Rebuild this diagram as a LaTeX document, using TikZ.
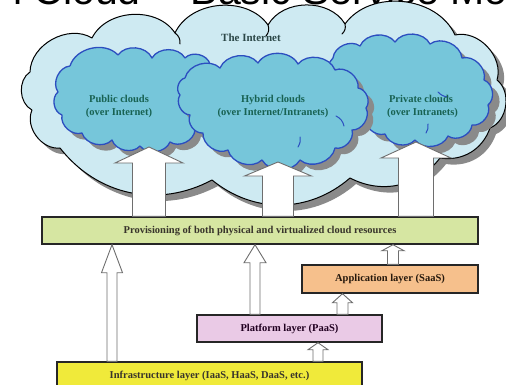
\documentclass[tikz,border=0pt]{standalone}
\usepackage{fontspec}
\setmainfont{Liberation Serif}
\newfontfamily\titlefont{Liberation Sans}
\usetikzlibrary{calc}

\definecolor{inetfill}{RGB}{206,234,242}
\definecolor{cloudfill}{RGB}{118,198,218}
\definecolor{cloudline}{RGB}{44,78,192}
\definecolor{shadowgray}{RGB}{138,138,138}
\definecolor{cloudtext}{RGB}{24,98,82}
\definecolor{inettext}{RGB}{44,72,72}
\definecolor{provfill}{RGB}{214,230,162}
\definecolor{appfill}{RGB}{246,192,140}
\definecolor{platfill}{RGB}{234,202,230}
\definecolor{infrafill}{RGB}{240,234,58}
\definecolor{arrowline}{RGB}{110,110,110}

\tikzset{
  inetcloud/.style={fill=inetfill, draw=black, line width=1pt, line join=round},
  bluecloud/.style={fill=cloudfill, draw=cloudline, line width=1.3pt, line join=round},
  cloudshadow/.style={fill=shadowgray},
  hook/.style={draw=#1, line width=1pt, line cap=round},
  cloudlabel/.style={font=\bfseries\fontsize{10.5}{13}\selectfont, text=cloudtext, align=center},
  layerbox/.style={draw=black!85, line width=1.4pt, minimum height=27pt, inner sep=0pt,
    font=\bfseries\fontsize{10.5}{12}\selectfont},
  blockarr/.style={fill=white, draw=arrowline, line width=0.9pt, line join=miter},
  every to/.style={bend left=60}
}

% hollow upward block arrow: base point, tip point, shaft half width,
% head half width, head length (all widths in pt)
\newcommand\hollowup[5]{%
  \draw[blockarr] let \p1=#1, \p2=#2 in
    (\x1-#3pt,\y1) -- (\x1-#3pt,\y2-#5pt) -- (\x1-#4pt,\y2-#5pt) -- (\x1,\y2)
    -- (\x1+#4pt,\y2-#5pt) -- (\x1+#3pt,\y2-#5pt) -- (\x1+#3pt,\y1) -- cycle;}

\begin{document}
\begin{tikzpicture}[x=1pt,y=-1pt]
\useasboundingbox (0,0) rectangle (506,385);
\clip (0,0) rectangle (506,385);

% heading, only its lower edge shows
\node[anchor=base west, inner sep=0pt, font=\titlefont\fontsize{41}{41}\selectfont]
  (heading) at (13,5) {l Cloud -- Basic Service Models};

% the Internet cloud
\def\inetpath{(32,110) to (30,72) to (92,38) to (175,33) to (268,25) to (345,24)
  to (455,35) to (497,80) to (490,128) to[bend left=40] (440,158) to[bend left=40] (350,178)
  to[bend left=40] (212,180) to[bend left=40] (60,148) to (32,110)}
\fill[cloudshadow, shift={(6,6)}] \inetpath;
\path[inetcloud] \inetpath;
\draw[hook=black] (175,33) to[bend left=30] (180,44);
\draw[hook=black] (268,25) to[bend left=30] (266,36);
\draw[hook=black] (345,24) to[bend left=30] (342,34);
\node[font=\bfseries\fontsize{11}{13}\selectfont, text=inettext] (inet) at (251,38) {The Internet};

% public clouds
\def\pubpath{(70,66) to (118,55) to (152,58) to (185,58) to (210,64) to (215,100)
  to (195,130) to (170,142) to (140,146) to (112,140) to (82,133) to (62,115)
  to (58,92) to (70,66)}
\fill[cloudshadow, shift={(6,6)}] \pubpath;
\path[bluecloud] \pubpath;
\node[cloudlabel] (public) at (119,106) {Public clouds\\(over Internet)};

% private clouds
\def\privpath{(333,58) to (360,46) to (395,42) to (430,44) to (462,58) to (484,80)
  to (488,105) to (472,125) to (448,136) to (415,140) to (385,134) to (365,115)
  to (340,90) to (333,58)}
\fill[cloudshadow, shift={(7,7)}] \privpath;
\path[bluecloud] \privpath;
\draw[hook=cloudline] (448,97) to[bend left=20] (438,92);
\draw[hook=cloudline] (428,124) to[bend left=20] (426,133);
\node[cloudlabel] (private) at (421,106) {Private clouds\\\;(over Intranets)};

% hybrid clouds
\def\hybpath{(185,78) to (220,68) to (258,63) to (298,64) to (335,70) to (358,88)
  to (366,108) to (352,130) to (335,148) to (300,160) to (262,160) to (228,150)
  to (203,133) to (190,115) to (180,95) to (185,78)}
\fill[cloudshadow, shift={(6,6)}] \hybpath;
\path[bluecloud] \hybpath;
\draw[hook=cloudline] (336,116) to[bend left=25] (344,126);
\draw[hook=cloudline] (300,137) to[bend left=20] (298,147);
\node[cloudlabel] (hybrid) at (273,106) {Hybrid clouds\\(over Internet/Intranets)};

% service layers
\node[layerbox, fill=provfill, minimum width=436pt, text=black!80!olive] (prov) at (260,230.5)
  {Provisioning of both physical and virtualized cloud resources};
\node[layerbox, fill=appfill, minimum width=176pt, minimum height=28pt, text=black!80!brown] (app) at (390,279)
  {Application layer (SaaS)};
\node[layerbox, fill=platfill, minimum width=185pt, text=black!75!violet] (plat) at (289.5,328.5)
  {Platform layer (PaaS)};
\node[layerbox, fill=infrafill, minimum width=305pt, minimum height=28pt, text=black!80!olive] (infra) at (209.5,376)
  {Infrastructure layer (IaaS, HaaS, DaaS, etc.)};

% arrow tips inside the clouds
\coordinate (pubtip) at (149,147);
\coordinate (hybtip) at (278,162);
\coordinate (privtip) at (416,142);

% provisioning feeds the three kinds of cloud
\hollowup{(149,0 |- prov.north)}{(pubtip)}{16.5}{34}{16}
\hollowup{(278,0 |- prov.north)}{(hybtip)}{15.5}{33.5}{14}
\hollowup{(416,0 |- prov.north)}{(privtip)}{17.5}{35}{16}

% layers feed upward
\hollowup{(112,0 |- infra.north)}{(112,0 |- prov.south)}{5}{10.5}{28}
\hollowup{(255,0 |- plat.north)}{(255,0 |- prov.south)}{5}{11}{18}
\hollowup{(393,0 |- app.north)}{(393,0 |- prov.south)}{5.5}{11}{6}
\hollowup{(342.5,0 |- plat.north)}{(342.5,0 |- app.south)}{5.5}{10}{9}
\hollowup{(318,0 |- infra.north)}{(318,0 |- plat.south)}{5}{10}{7}
\end{tikzpicture}
\end{document}
